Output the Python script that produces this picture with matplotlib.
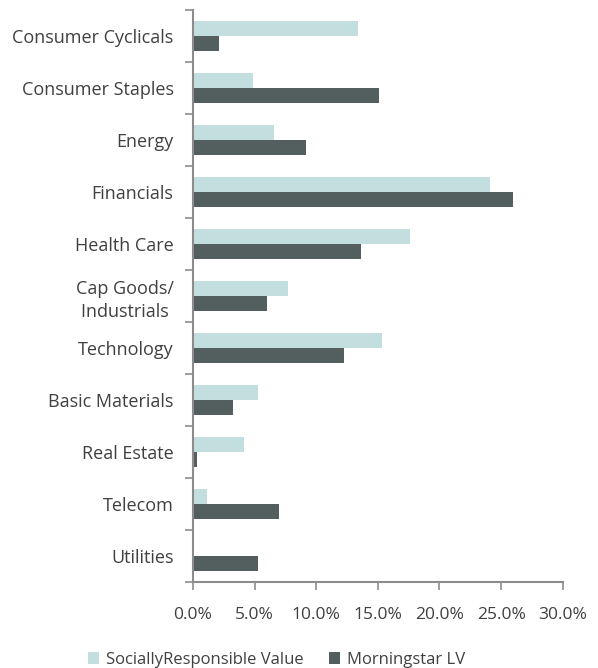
import matplotlib.pyplot as plt
import numpy as np

plt.rcParams['font.family'] = ['Open Sans', 'DejaVu Sans']

categories = ["Consumer Cyclicals", "Consumer Staples", "Energy", "Financials",
              "Health Care", "Cap Goods/\nIndustrials ", "Technology",
              "Basic Materials", "Real Estate", "Telecom", "Utilities"]
sri_value = [13.4, 4.85, 6.6, 24.1, 17.6, 7.75, 15.3, 5.3, 4.1, 1.1, 0.0]
morningstar_lv = [2.1, 15.1, 9.2, 26.0, 13.6, 6.0, 12.25, 3.25, 0.35, 7.0, 5.3]
xticks = [0, 5, 10, 15, 20, 25, 30]

light = "#C3DEDF"
dark = "#535F5E"
grey = "#8C8C8C"
text_col = "#404040"

fig = plt.figure(figsize=(5.98, 6.68), dpi=100)
ax = fig.add_axes([0.3227, 0.1292, 0.6183, 0.8558])

y = np.arange(len(categories))
h = 0.29
ax.barh(y - h / 2, sri_value, height=h, color=light, label="SociallyResponsible Value")
ax.barh(y + h / 2, morningstar_lv, height=h, color=dark, label="Morningstar LV")

ax.set_ylim(len(categories) - 0.5, -0.5)
ax.set_xlim(0, 30)
ax.set_yticks(y)
ax.set_yticklabels(categories, fontsize=13, color=text_col, linespacing=1.35)
ax.set_yticks(np.arange(len(categories) + 1) - 0.5, minor=True)
ax.tick_params(axis='y', which='major', length=0, pad=14)
ax.tick_params(axis='y', which='minor', length=6, width=1.2, color=grey)
ax.set_xticks(xticks)
ax.set_xticklabels([f"{v:.1f}%" for v in xticks], fontsize=12.5, color=text_col)
ax.tick_params(axis='x', length=6, width=1.2, color=grey, pad=12)

for s in ['top', 'right']:
    ax.spines[s].set_visible(False)
for s in ['left', 'bottom']:
    ax.spines[s].set_color(grey)
    ax.spines[s].set_linewidth(1.5)

fig.legend(loc='lower center', bbox_to_anchor=(0.462, -0.022), ncol=2, frameon=False,
           fontsize=12, handlelength=0.7, handleheight=0.7, handletextpad=0.4,
           columnspacing=1.5, labelcolor=text_col)

fig.savefig("out.png", dpi=100)
